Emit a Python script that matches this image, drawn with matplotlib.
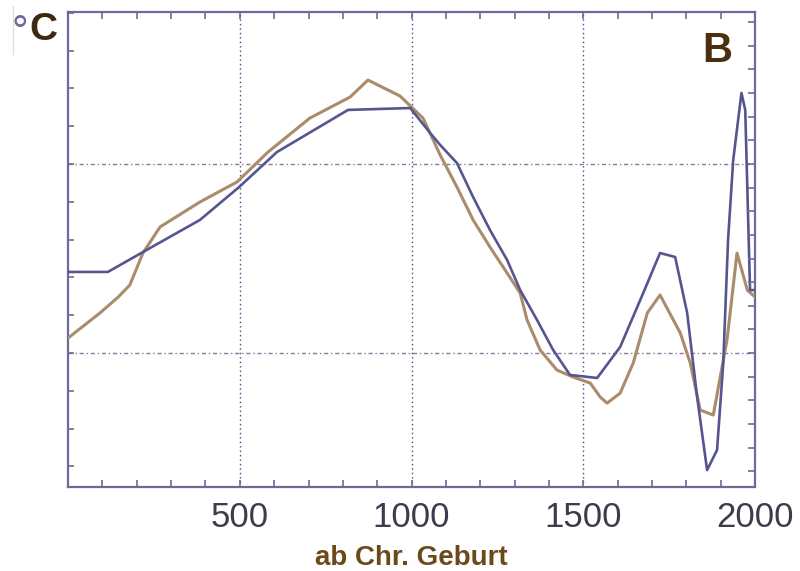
import matplotlib.pyplot as plt
from matplotlib.ticker import MultipleLocator, FixedLocator, NullFormatter

# Jahre (ab Chr. Geburt) und Temperaturverlauf, Einheiten relativ (Gitterlinie unten = 0)
jahre_blau = [0, 116, 218, 384, 498, 608, 815, 996, 1054, 1083, 1132, 1179,
              1228, 1278, 1316, 1365, 1412, 1461, 1540, 1607, 1674, 1723,
              1767, 1802, 1831, 1860, 1889, 1907, 1921, 1936, 1960, 1971,
              1985, 2000]
temp_blau = [0.429, 0.429, 0.534, 0.704, 0.878, 1.063, 1.286, 1.296, 1.164,
             1.101, 1.005, 0.825, 0.651, 0.492, 0.333, 0.175, 0.016, -0.116,
             -0.132, 0.032, 0.317, 0.529, 0.508, 0.212, -0.233, -0.619,
             -0.513, -0.053, 0.598, 1.021, 1.376, 1.286, 0.333, 0.333]

jahre_braun = [0, 93, 146, 180, 218, 268, 384, 492, 582, 704, 821, 873, 966,
               1033, 1063, 1083, 1132, 1179, 1228, 1278, 1316, 1336, 1374,
               1423, 1470, 1520, 1549, 1569, 1607, 1645, 1686, 1723, 1782,
               1811, 1840, 1878, 1918, 1947, 1977, 2000]
temp_braun = [0.079, 0.212, 0.296, 0.360, 0.529, 0.667, 0.799, 0.905, 1.063,
              1.243, 1.354, 1.444, 1.360, 1.243, 1.127, 1.048, 0.878, 0.704,
              0.561, 0.423, 0.317, 0.175, 0.016, -0.090, -0.127, -0.159,
              -0.233, -0.265, -0.212, -0.053, 0.212, 0.307, 0.106, -0.053,
              -0.302, -0.328, 0.069, 0.529, 0.333, 0.296]

x_labels = [500, 1000, 1500, 2000]

plt.rcParams['font.family'] = ['Liberation Sans', 'DejaVu Sans']

achse = '#6a6a9c'
fig = plt.figure(figsize=(8, 5.71), dpi=100)
ax = fig.add_axes([0.085, 0.147, 0.859, 0.832])

ax.set_xlim(0, 2000)
ax.set_ylim(-0.709, 1.804)

# Gitter
for x in [500, 1000, 1500]:
    ax.axvline(x, color='#4a4a8a', lw=1.0, ls=(0, (1, 2.2)), zorder=1)
for y in [0, 1]:
    ax.axhline(y, color='#8a7aa0', lw=1.0, ls=(0, (3, 2, 1, 2)), zorder=1)

ax.plot(jahre_braun, temp_braun, color='#aa8c6c', lw=2.2, zorder=3)
ax.plot(jahre_blau, temp_blau, color='#55558f', lw=1.9, zorder=4)

for s in ax.spines.values():
    s.set_color(achse)
    s.set_linewidth(1.6)

ax.xaxis.set_major_locator(FixedLocator(x_labels))
ax.xaxis.set_minor_locator(MultipleLocator(100))
ax.yaxis.set_major_locator(MultipleLocator(0.2))
ax.yaxis.set_major_formatter(NullFormatter())
ax.tick_params(axis='x', which='both', direction='in', top=True, length=5,
               width=1.2, color=achse, labelsize=25, labelcolor='#3c3c4c', pad=10)
ax.tick_params(axis='y', which='both', direction='in', left=True, right=False,
               length=4, width=1.2, color=achse)

ax2 = ax.twinx()
ax2.set_ylim(ax.get_ylim())
ax2.yaxis.set_major_locator(MultipleLocator(0.125))
ax2.yaxis.set_major_formatter(NullFormatter())
ax2.tick_params(axis='y', direction='in', length=5, width=1.2, color=achse)
for s in ax2.spines.values():
    s.set_visible(False)

ax.set_xlabel('ab Chr. Geburt', fontsize=20, fontweight='bold', color='#6b4a1a',
              labelpad=8)

fig.text(0.037, 0.930, 'C', fontsize=28, fontweight='bold', color='#3d2a10',
         ha='left', va='baseline')
fig.text(0.015, 0.922, '°', fontsize=30, color='#6a6a9c', ha='left', va='baseline')
fig.add_artist(plt.Line2D([0.016, 0.016], [0.905, 0.99], color='#e0dcd8', lw=1))
ax.text(0.945, 0.895, 'B', transform=ax.transAxes, fontsize=30, fontweight='bold',
        color='#4a3010', ha='center', va='baseline')

fig.savefig('out.png', dpi=100)
